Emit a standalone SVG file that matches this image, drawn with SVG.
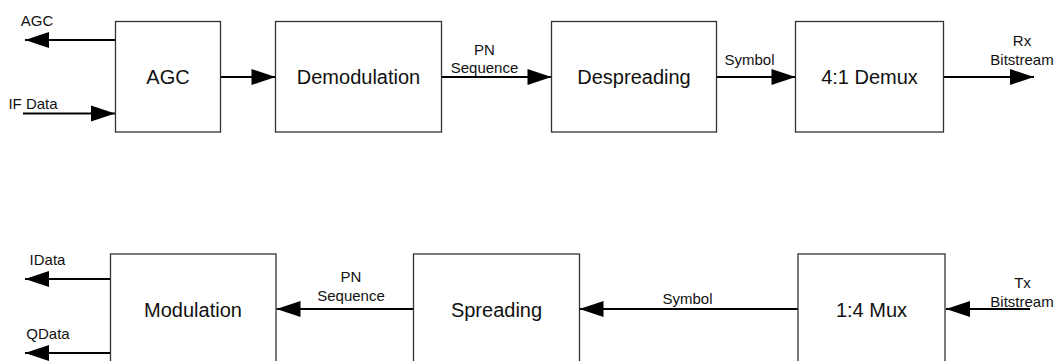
<svg xmlns="http://www.w3.org/2000/svg" width="1056" height="361" viewBox="0 0 1056 361">
<style>
.box{fill:#fff;stroke:#333;stroke-width:1.3}
.big{font-family:"Liberation Sans",Arial,sans-serif;font-size:20px;fill:#111;text-anchor:middle}
.lbl{font-family:"Liberation Sans",Arial,sans-serif;font-size:15px;fill:#111;text-anchor:middle}
.c{fill:none;stroke:#000;stroke-width:2;marker-end:url(#ah)}
</style>
<defs>
<marker id="ah" markerUnits="userSpaceOnUse" markerWidth="24" markerHeight="16" refX="24" refY="8" orient="auto" overflow="visible">
<path d="M0,0 L24,8 L0,16 z" fill="#000"/>
</marker>
</defs>
<rect width="1056" height="361" fill="#fff"/>
<g id="connectors">
<path class="c" d="M115.5,40 H25"/>
<path class="c" d="M23,113.5 H115"/>
<path class="c" d="M220.5,77 H275.5"/>
<path class="c" d="M441.5,77 H551.5"/>
<path class="c" d="M716.5,77 H795.5"/>
<path class="c" d="M943.5,77 H1034"/>
<path class="c" d="M110.5,279 H25"/>
<path class="c" d="M110.5,353 H25"/>
<path class="c" d="M413.5,309 H276.5"/>
<path class="c" d="M798,309 H579.5"/>
<path class="c" d="M1030,309 H946"/>
<text class="lbl" x="37" y="26">AGC</text>
<text class="lbl" x="33" y="108.5">IF Data</text>
<text class="lbl" x="484.5" y="55">PN</text>
<text class="lbl" x="484.5" y="72.5">Sequence</text>
<text class="lbl" x="749.5" y="64.5">Symbol</text>
<text class="lbl" x="1022" y="46">Rx</text>
<text class="lbl" x="1022" y="64.5">Bitstream</text>
<text class="lbl" x="47.5" y="265">IData</text>
<text class="lbl" x="48" y="339">QData</text>
<text class="lbl" x="351" y="281.5">PN</text>
<text class="lbl" x="351" y="301">Sequence</text>
<text class="lbl" x="687.5" y="303.5">Symbol</text>
<text class="lbl" x="1022.5" y="288">Tx</text>
<text class="lbl" x="1022" y="306.5">Bitstream</text>
</g>
<g id="agc"><rect class="box" x="115.5" y="21.5" width="105" height="110.5"/><text class="big" x="168" y="83.5">AGC</text></g>
<g id="demodulation"><rect class="box" x="275.5" y="21.5" width="166" height="110.5"/><text class="big" x="358.5" y="83.5">Demodulation</text></g>
<g id="despreading"><rect class="box" x="551.5" y="21.5" width="165" height="110.5"/><text class="big" x="634" y="83.5">Despreading</text></g>
<g id="demux"><rect class="box" x="795.5" y="21.5" width="148" height="110.5"/><text class="big" x="869.5" y="83.5">4:1 Demux</text></g>
<g id="modulation"><rect class="box" x="110.5" y="254" width="165.5" height="110"/><text class="big" x="193" y="316.5">Modulation</text></g>
<g id="spreading"><rect class="box" x="413.5" y="254" width="166" height="110"/><text class="big" x="496.5" y="316.5">Spreading</text></g>
<g id="mux"><rect class="box" x="798" y="254" width="147" height="110"/><text class="big" x="871.5" y="316.5">1:4 Mux</text></g>
</svg>
